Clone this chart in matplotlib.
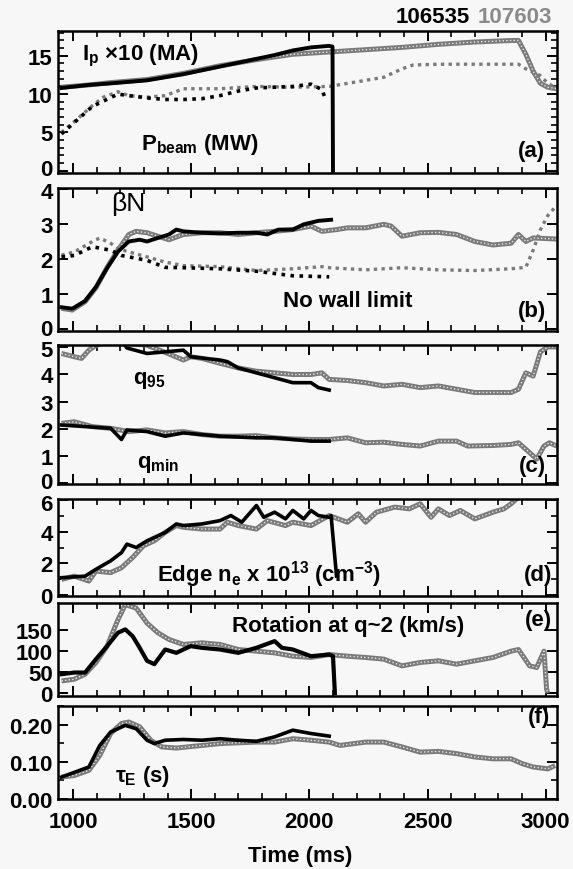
import matplotlib
matplotlib.use("Agg")
import matplotlib.pyplot as plt
from matplotlib.ticker import MultipleLocator
from matplotlib.transforms import ScaledTranslation

FAM = 'Liberation Sans'
FS = 16

plt.rcParams['font.family'] = [FAM, 'DejaVu Sans']
plt.rcParams['font.weight'] = 'bold'
plt.rcParams['mathtext.fontset'] = 'custom'
plt.rcParams['mathtext.rm'] = FAM + ':bold'
plt.rcParams['mathtext.it'] = FAM + ':bold'
plt.rcParams['mathtext.bf'] = FAM + ':bold'
plt.rcParams['mathtext.sf'] = FAM + ':bold'

# ---------------- data (time in ms) ----------------
shot_black = "106535"
shot_gray = "107603"

# (a) plasma current x10 (MA)
ip_gray_t = [951, 1067, 1159, 1313, 1467, 1622, 1776, 1930, 2084, 2238, 2392, 2546, 2700, 2854, 2885, 2916, 2947, 2978, 3009, 3047]
ip_gray = [10.9, 11.2, 11.5, 11.9, 12.7, 13.7, 14.5, 15.2, 15.5, 15.8, 16.1, 16.5, 16.8, 17.0, 17.0, 15.2, 13.0, 11.4, 10.9, 10.7]
ip_black_t = [951, 1067, 1159, 1313, 1467, 1622, 1776, 1853, 1930, 2007, 2084, 2098, 2100]
ip_black = [10.8, 11.2, 11.4, 11.8, 12.6, 13.6, 14.6, 15.1, 15.7, 16.1, 16.3, 16.2, 0.0]
# (a) beam power (MW)
pb_gray_t = [951, 1005, 1082, 1128, 1190, 1236, 1313, 1390, 1467, 1622, 1776, 1930, 2084, 2238, 2315, 2392, 2439, 2546, 2700, 2854, 2885, 2916, 2978, 3009, 3040]
pb_gray = [5.0, 6.4, 8.5, 9.6, 10.3, 9.8, 9.6, 9.8, 10.7, 10.7, 11.0, 10.9, 11.0, 11.8, 12.2, 13.3, 13.8, 13.9, 13.9, 13.9, 13.9, 13.3, 12.4, 11.4, 10.9]
pb_black_t = [951, 1082, 1190, 1236, 1313, 1390, 1467, 1545, 1622, 1699, 1776, 1930, 2007, 2053, 2069]
pb_black = [4.8, 8.4, 10.0, 9.8, 9.5, 9.3, 9.3, 9.4, 9.8, 10.4, 10.8, 11.0, 11.3, 10.6, 9.3]

# (b) beta_N and no-wall limit
bn_gray_t = [951, 997, 1051, 1097, 1144, 1190, 1236, 1267, 1313, 1359, 1406, 1467, 1545, 1622, 1699, 1776, 1853, 1930, 2007, 2053, 2115, 2161, 2238, 2315, 2346, 2392, 2469, 2546, 2623, 2700, 2777, 2854, 2885, 2916, 2947, 3047]
bn_gray = [0.59, 0.54, 0.78, 1.18, 1.76, 2.25, 2.70, 2.79, 2.75, 2.65, 2.55, 2.70, 2.75, 2.75, 2.70, 2.75, 2.79, 2.84, 2.94, 2.79, 2.84, 2.89, 2.89, 2.99, 2.94, 2.65, 2.75, 2.76, 2.70, 2.50, 2.40, 2.45, 2.70, 2.50, 2.60, 2.57]
bn_black_t = [951, 997, 1051, 1097, 1144, 1190, 1236, 1282, 1313, 1359, 1406, 1437, 1467, 1545, 1622, 1699, 1776, 1822, 1869, 1930, 1976, 2038, 2092]
bn_black = [0.62, 0.58, 0.80, 1.20, 1.74, 2.21, 2.50, 2.55, 2.50, 2.60, 2.70, 2.84, 2.79, 2.75, 2.73, 2.75, 2.75, 2.70, 2.84, 2.84, 2.99, 3.09, 3.12]
nw_gray_t = [951, 1005, 1082, 1113, 1159, 1190, 1236, 1313, 1390, 1467, 1622, 1776, 1930, 2053, 2084, 2238, 2392, 2546, 2700, 2854, 2916, 2947, 2978, 3009, 3040]
nw_gray = [2.11, 2.20, 2.50, 2.60, 2.45, 2.30, 2.20, 2.06, 1.91, 1.81, 1.78, 1.67, 1.72, 1.78, 1.75, 1.69, 1.75, 1.69, 1.67, 1.72, 1.76, 2.25, 2.84, 3.24, 3.48]
nw_black_t = [951, 1005, 1082, 1159, 1205, 1313, 1390, 1467, 1622, 1776, 1930, 2084]
nw_black = [2.06, 2.10, 2.35, 2.25, 2.10, 1.96, 1.76, 1.75, 1.72, 1.65, 1.52, 1.49]

# (c) q95 and qmin
q95_gray_t = [951, 1005, 1036, 1067, 1097, 1159, 1313, 1390, 1467, 1498, 1545, 1622, 1699, 1776, 1853, 1930, 2007, 2053, 2084, 2161, 2238, 2315, 2392, 2469, 2546, 2623, 2700, 2777, 2854, 2885, 2916, 2947, 2978, 3009, 3047]
q95_gray = [4.76, 4.64, 4.58, 4.88, 5.06, 5.20, 5.06, 4.80, 4.52, 4.64, 4.58, 4.40, 4.23, 4.11, 4.05, 3.99, 3.99, 4.05, 3.81, 3.77, 3.69, 3.57, 3.63, 3.51, 3.57, 3.45, 3.33, 3.33, 3.33, 3.45, 4.05, 3.93, 4.82, 5.00, 5.00]
q95_black_t = [1221, 1228, 1313, 1390, 1467, 1498, 1622, 1653, 1699, 1776, 1853, 1930, 2007, 2038, 2084]
q95_black = [5.05, 4.96, 4.76, 4.82, 4.88, 4.64, 4.52, 4.46, 4.23, 4.05, 3.87, 3.69, 3.69, 3.51, 3.42]
qmin_gray_t = [951, 1005, 1082, 1159, 1236, 1313, 1390, 1467, 1545, 1622, 1699, 1776, 1853, 1930, 2007, 2084, 2161, 2238, 2315, 2392, 2469, 2546, 2623, 2670, 2777, 2854, 2885, 2932, 2962, 2993, 3016, 3047]
qmin_gray = [2.20, 2.26, 2.08, 2.02, 1.90, 1.96, 1.85, 1.90, 1.79, 1.73, 1.73, 1.75, 1.67, 1.63, 1.61, 1.61, 1.67, 1.49, 1.51, 1.43, 1.37, 1.55, 1.55, 1.37, 1.39, 1.43, 1.49, 1.13, 0.89, 1.37, 1.49, 1.37]
qmin_black_t = [951, 1159, 1205, 1228, 1313, 1390, 1467, 1545, 1622, 1776, 1853, 1930, 2007, 2084]
qmin_black = [2.14, 2.02, 1.61, 1.96, 1.90, 1.73, 1.85, 1.79, 1.73, 1.67, 1.67, 1.61, 1.55, 1.55]

# (d) edge density x1e13 cm^-3
ne_gray_t = [951, 1005, 1067, 1097, 1159, 1205, 1252, 1298, 1344, 1390, 1437, 1467, 1545, 1622, 1653, 1699, 1776, 1822, 1899, 1930, 2007, 2084, 2161, 2207, 2238, 2284, 2361, 2423, 2469, 2515, 2546, 2593, 2639, 2700, 2777, 2823, 2854, 2885]
ne_gray = [0.99, 1.20, 0.89, 1.52, 1.42, 1.73, 2.37, 3.11, 3.42, 3.95, 4.38, 4.27, 4.16, 4.16, 4.59, 4.38, 4.16, 4.69, 4.38, 4.59, 4.38, 5.01, 4.59, 5.12, 4.59, 5.22, 5.54, 5.43, 5.75, 4.90, 5.43, 5.01, 5.33, 4.80, 5.22, 5.43, 5.75, 6.17]
ne_black_t = [951, 1051, 1097, 1159, 1205, 1228, 1267, 1313, 1390, 1437, 1467, 1545, 1622, 1668, 1714, 1776, 1807, 1853, 1899, 1930, 1976, 2007, 2038, 2084, 2092, 2115]
ne_black = [1.10, 1.20, 1.63, 2.16, 2.68, 3.21, 3.00, 3.42, 3.95, 4.48, 4.38, 4.48, 4.69, 5.01, 4.59, 5.64, 4.90, 5.22, 4.80, 5.33, 4.80, 5.33, 5.01, 4.90, 5.00, 1.20]

# (e) rotation at q~2 (km/s)
rot_gray_t = [951, 1005, 1051, 1097, 1144, 1190, 1221, 1267, 1313, 1359, 1406, 1467, 1545, 1622, 1699, 1776, 1853, 1930, 2007, 2084, 2161, 2238, 2315, 2392, 2469, 2546, 2623, 2700, 2777, 2854, 2885, 2932, 2962, 2993, 3004, 3009]
rot_gray = [29, 33, 45, 73, 112, 175, 211, 203, 167, 144, 128, 116, 120, 116, 104, 100, 96, 88, 85, 92, 88, 85, 81, 65, 73, 77, 69, 77, 85, 100, 104, 65, 61, 100, 9, 0]
rot_black_t = [951, 1005, 1051, 1097, 1144, 1190, 1221, 1252, 1282, 1313, 1344, 1390, 1437, 1467, 1498, 1545, 1622, 1699, 1776, 1853, 1884, 1930, 2007, 2084, 2100, 2108]
rot_black = [45, 49, 49, 81, 112, 144, 152, 136, 108, 77, 69, 104, 96, 104, 112, 108, 104, 96, 108, 124, 108, 104, 88, 92, 88, 0]

# (f) energy confinement time (s)
tau_gray_t = [951, 1005, 1067, 1113, 1159, 1205, 1236, 1282, 1329, 1375, 1437, 1545, 1622, 1776, 1853, 1930, 2007, 2084, 2130, 2238, 2315, 2392, 2469, 2546, 2623, 2700, 2777, 2854, 2901, 2947, 3009, 3040]
tau_gray = [0.059, 0.063, 0.077, 0.117, 0.176, 0.203, 0.207, 0.194, 0.158, 0.140, 0.137, 0.144, 0.149, 0.153, 0.153, 0.162, 0.158, 0.153, 0.144, 0.153, 0.153, 0.140, 0.126, 0.128, 0.122, 0.113, 0.108, 0.108, 0.095, 0.086, 0.081, 0.090]
tau_black_t = [951, 1067, 1113, 1159, 1221, 1267, 1313, 1344, 1390, 1467, 1545, 1622, 1699, 1776, 1853, 1930, 2007, 2084]
tau_black = [0.059, 0.086, 0.144, 0.180, 0.198, 0.189, 0.158, 0.149, 0.158, 0.160, 0.158, 0.162, 0.158, 0.155, 0.167, 0.185, 0.176, 0.169]

x_ticks = [1000, 1500, 2000, 2500, 3000]

# ---------------- figure ----------------
W, H = 573, 870
fig = plt.figure(figsize=(W / 100, H / 100), dpi=100)
fig.patch.set_facecolor('#f7f7f7')

left_px, right_px = 58.4, 557
panels_px = [(32.3, 174), (189.3, 331.7), (346, 485), (500, 597), (604, 697), (707, 800)]
axes = []
for top, bot in panels_px:
    ax = fig.add_axes([left_px / W, 1 - bot / H, (right_px - left_px) / W, (bot - top) / H])
    ax.set_facecolor('#f7f7f7')
    axes.append(ax)

GRAY = '#7a7a7a'


def gray_line(ax, t, y):
    ax.plot(t, y, color=GRAY, lw=3.6, solid_capstyle='butt', zorder=2)
    ax.plot(t, y, color='#e6e6e6', lw=1.0, ls=(0, (1, 1.6)), zorder=2.1)


def black_line(ax, t, y, lw=2.6):
    ax.plot(t, y, color='black', lw=lw, zorder=3)


def label(ax, x, y, s, **kw):
    kw.setdefault('fontsize', FS)
    kw.setdefault('fontweight', 'bold')
    ax.text(x, y, s, transform=ax.transAxes, **kw)


def nudge(lab, dy_px):
    lab.set_transform(lab.get_transform() + ScaledTranslation(0, dy_px / 100, fig.dpi_scale_trans))


for ax in axes:
    ax.set_xlim(938, 3048)
    for s in ax.spines.values():
        s.set_linewidth(1.8)
    ax.xaxis.set_major_locator(MultipleLocator(500))
    ax.xaxis.set_minor_locator(MultipleLocator(100))
    ax.tick_params(axis='both', which='major', direction='in', length=7, width=1.4,
                   top=True, right=True, labelsize=FS)
    ax.tick_params(axis='both', which='minor', direction='in', length=4, width=1.2,
                   top=True, right=True)
    ax.tick_params(axis='y', which='major', pad=4)
    if ax is not axes[-1]:
        ax.tick_params(axis='x', labelbottom=False)

# (a)
ax = axes[0]
gray_line(ax, ip_gray_t, ip_gray)
black_line(ax, ip_black_t, ip_black, lw=2.8)
ax.plot(pb_gray_t, pb_gray, color=GRAY, lw=2.4, ls=(0, (1, 1.3)), zorder=2)
ax.plot(pb_black_t, pb_black, color='black', lw=2.6, ls=(0, (1, 1.5)), zorder=3)
ax.set_ylim(-0.3, 18.2)
ax.set_yticks([0, 5, 10, 15])
ax.yaxis.set_minor_locator(MultipleLocator(1))
label(ax, 0.048, 0.80, r'I$_{p}$ ×10 (MA)')
label(ax, 0.165, 0.17, r'P$_{beam}$ (MW)')
label(ax, 0.975, 0.157, '(a)', ha='right', va='center')

# (b)
ax = axes[1]
gray_line(ax, bn_gray_t, bn_gray)
black_line(ax, bn_black_t, bn_black, lw=2.8)
ax.plot(nw_gray_t, nw_gray, color=GRAY, lw=2.4, ls=(0, (1, 1.3)), zorder=2)
ax.plot(nw_black_t, nw_black, color='black', lw=2.6, ls=(0, (1, 1.5)), zorder=3)
ax.set_ylim(-0.05, 4.02)
ax.set_yticks([0, 1, 2, 3, 4])
label(ax, 0.106, 0.85, 'βN', fontsize=19, fontweight='normal')
label(ax, 0.451, 0.17, 'No wall limit')
label(ax, 0.978, 0.14, '(b)', ha='right', va='center')

# (c)
ax = axes[2]
gray_line(ax, q95_gray_t, q95_gray)
gray_line(ax, qmin_gray_t, qmin_gray)
black_line(ax, q95_black_t, q95_black)
black_line(ax, qmin_black_t, qmin_black)
ax.set_ylim(-0.02, 5.07)
ax.set_yticks([0, 1, 2, 3, 4, 5])
label(ax, 0.150, 0.726, r'q$_{95}$')
label(ax, 0.158, 0.119, r'q$_{min}$')
label(ax, 0.978, 0.13, '(c)', ha='right', va='center')

# (d)
ax = axes[3]
gray_line(ax, ne_gray_t, ne_gray)
black_line(ax, ne_black_t, ne_black)
ax.set_ylim(-0.05, 6.05)
ax.set_yticks([0, 2, 4, 6])
ax.yaxis.set_minor_locator(MultipleLocator(1))
label(ax, 0.198, 0.155, r'Edge n$_{e}$ x 10$^{13}$ (cm$^{-3}$)')
label(ax, 0.99, 0.224, '(d)', ha='right', va='center')

# (e)
ax = axes[4]
gray_line(ax, rot_gray_t, rot_gray)
black_line(ax, rot_black_t, rot_black, lw=3.0)
ax.set_ylim(-7, 215)
ax.set_yticks([0, 50, 100, 150])
label(ax, 0.348, 0.70, 'Rotation at q~2 (km/s)')
label(ax, 0.99, 0.82, '(e)', ha='right', va='center')

# (f)
ax = axes[5]
gray_line(ax, tau_gray_t, tau_gray)
black_line(ax, tau_black_t, tau_black)
ax.set_ylim(0, 0.25)
ax.set_yticks([0.0, 0.1, 0.2])
ax.set_yticklabels(['0.00', '0.10', '0.20'])
ax.yaxis.set_minor_locator(MultipleLocator(0.05))
ax.set_xticks(x_ticks)
ax.set_xticklabels([str(v) for v in x_ticks])
ax.tick_params(axis='x', which='major', pad=9)
label(ax, 0.114, 0.196, r'$\tau_{E}$ (s)')
label(ax, 0.986, 0.89, '(f)', ha='right', va='center')

for ax in axes:
    for lab in ax.get_yticklabels() + ax.get_xticklabels():
        lab.set_fontweight('bold')
        lab.set_fontsize(FS)

# keep stacked edge tick labels (panel boundaries) from touching
nudge(axes[0].get_yticklabels()[0], 3.5)
nudge(axes[1].get_yticklabels()[-1], -1.5)
nudge(axes[1].get_yticklabels()[0], 2.0)
nudge(axes[2].get_yticklabels()[-1], -1.5)
nudge(axes[2].get_yticklabels()[0], 3.0)
nudge(axes[3].get_yticklabels()[-1], -2.5)

fig.text(300 / W, 1 - 862 / H, 'Time (ms)', fontsize=FS, fontweight='bold', ha='center', va='baseline')

# shot numbers
fig.text(470 / W, 1 - 23 / H, shot_black, fontsize=FS, fontweight='bold', color='black', ha='right', va='baseline')
fig.text(552 / W, 1 - 23 / H, shot_gray, fontsize=FS, fontweight='bold', color='#8a8a8a', ha='right', va='baseline')

fig.savefig('out.png', dpi=100, facecolor=fig.get_facecolor())
